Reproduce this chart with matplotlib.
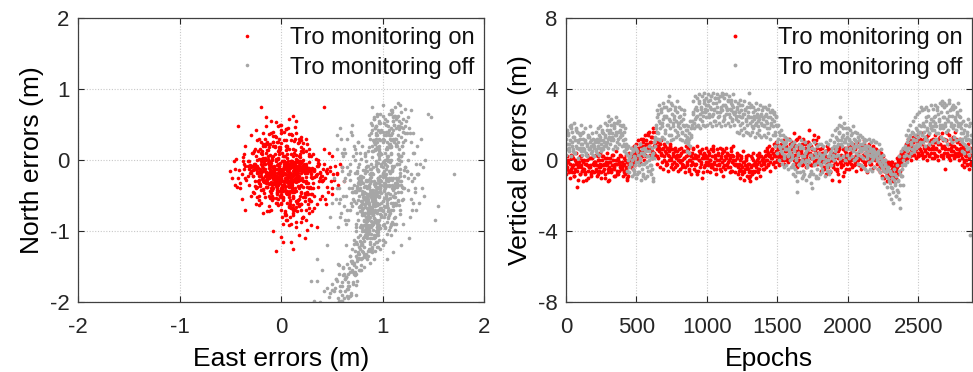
import numpy as np
import matplotlib
matplotlib.use("Agg")
import matplotlib.pyplot as plt

plt.rcParams['font.family'] = ['Liberation Sans', 'DejaVu Sans']
plt.rcParams['axes.unicode_minus'] = False

# ---------------- Left panel: horizontal errors (cm) ----------------
east_on_cm = [
    3, -12, 18, -5, 9, -22, 1, 14, -8, 25, -2, 7, -17, 11, -30, 4, 20, -6, 0, 13,
    -9, 16, 2, -25, 8, 30, -4, -14, 12, 5, -19, 22, -1, 10, -7, 27, -11, 6, 15, -3,
    19, -15, 4, -27, 11, -6, 24, 0, -20, 8, 33, -10, 13, -2, -35, 17, 5, -13, 28, 1,
    -5, 21, -16, 9, -24, 3, 14, -8, 37, -12, 6, -1, 18, -21, 10, -4, 26, -9, 2, 15,
    7, -18, 12, -3, 29, -11, 0, 20, -26, 4, -7, 16, 35, -14, 9, -1, 23, -31, 6, 11,
    -2, 13, -23, 5, 18, -8, 31, -15, 2, 10, -28, 22, -6, 14, -10, 3, 40, -17, 8, -4,
    24, -13, 7, -36, 15, 1, -9, 19, -5, 28, -20, 12, -1, 6, -25, 17, -11, 32, 3, -7,
    10, -16, 21, -3, 4, -29, 14, 38, -8, 0, 17, -13, 9, -22, 25, -5, 12, -2, -18, 30,
    -10, 5, 26, -19, 11, -4, 16, -33, 2, 20, -7, 8, -14, 34, -1, 13, -24, 6, 23, -9,
    15, -21, 3, 9, -12, 27, -6, 18, -30, 1, 11, -16, 41, -3, 7, 22, -9, 0, 14, -26,
    -50, -45, -40, -35, -42, -38, 60, 62, 55, 50, 58, 48, 35, -20, 42, -42, -15, -10, 12, 15,
    0, -5, 8, -8, 2, -5, 0, 12, 10, 20, 25, 5, -12, 30, 18, 15, 22, -18, 28, -25,
    -28, 33, -14, 45, -33, 20, 6, -22, 37, 12, -2, 26, -37, 17, 4, 30, -19, 9, -11, 43,
    -25, -30, -18, -8, 5, 10, 20, 25, -35, 28, -22, 0, 14, -6, 32, -15, 8, 18, -28, 3,
    5, -8, 12, -3, 0, 16, -14, 7, -1, 21, -6, 9, 2, -18, 11, -4, 14, -10, 4, 19,
    -2, 10, -12, 6, 18, -7, 1, -16, 13, 3, -5, 23, -9, 8, -1, 15, -13, 5, 26, -3,
    8, -11, 17, -4, 3, -20, 12, 0, 22, -7, 6, -15, 10, -2, 27, -9, 4, 14, -17, 1,
    -6, 15, 2, -10, 20, -3, 9, -18, 6, 13, -1, -13, 18, 4, -8, 24, 0, 11, -22, 7,
    11, -5, 4, 19, -14, 8, -1, 30, -9, 2, 16, -6, 12, -19, 5, -3, 21, 9, -11, 0,
    -4, 7, -16, 13, 1, -9, 17, 5, -24, 10, -2, 25, -7, 3, 15, -12, 8, -5, 20, 2,
    14, -8, 3, -20, 9, 0, 26, -4, 12, -13, 6, 18, -10, 1, -27, 11, -3, 7, 22, -15,
    0, 17, -6, 9, -15, 4, 28, -11, 2, 13, -3, -21, 8, 19, -8, 5, -1, 15, -12, 10,
    6, -13, 20, -2, 11, -7, 3, 33, -17, 8, -4, 14, -10, 1, 24, -6, 16, -1, 7, -23,
    -1, 9, -19, 4, 15, -5, 11, -12, 27, 2, -8, 18, 0, -15, 7, 22, -3, 12, -26, 5,
    -30, 35, -25, 40, -32, 28, -38, 33, -28, 42, -22, 36, -34, 30, -27, 44, -36, 31, -24, 38,
    -15, 20, -8, 25, -20, 15, 5, -12, 28, -3, 18, -26, 10, -18, 22, 0, -10, 14, -22, 8,
    32, -28, 38, -35, 26, -40, 34, -20, 41, -31, 29, -37, 45, -24, 36, -29, 39, -33, 27, -41,
    12, -6, 20, -14, 4, 26, -18, 9, -2, 16, -11, 22, 1, -23, 14, -8, 24, 6, -16, 18,
    48, 52, 45, 55, 50, 46, -45, -48, -44, 47, 53, 43, 49, -43, -46, 51, 44, 56, 42, 50,
    35, 28, 20, 25, 15, 30, 40, 22, 18, 33, 10, 26, 38, 5, 12, 24, 31, 16, 21, 8,
    -5, 10, -12, 3, 18, -20, 7, -8, 15, 0, -16, 22, -3, 11, -24, 5, 26, -10, 13, -1,
    -18, 8, 30, -26, 15, -8, 36, -32, 4, 24, -14, 40, -4, 19, -36, 12, 28, -21, 2, 33,
    -20, -10, 0, 10, 20, 30, -15, -5, 5, 15, 25, -25, -18, -8, 2, 12, 22, -12, -2, 8,
    18, 28, -22, -14, -4, 6, 16, 26, -28, -16, -6, 4, 14, 24, -20, -10, 0, 10, 20, -24,
    1, 9, 17, -7, -15, 23, 31, -21, -3, 5, 13, 21, -11, -19, 27, 3, 11, 19, -5, -13,
    7, -9, 15, -1, 23, -17, 9, 25, -7, 1, 17, -23, -5, 13, 29, -13, 5, 19, -3, 11,
    -26, 34, -32, 36, -30, 32, 0, 4, -4, 8, -8, 12, -12, 16, -16, 20, -20, 24, -24, 28,
    3, -6, 14, -18, 21, -9, 7, -2, 17, -13, 26, -21, 10, 0, -27, 19, -7, 12, -15, 24,
]
north_on_cm = [
    -10, -25, 5, -32, -18, 2, -40, -12, -22, -8, 12, -28, -5, -45, -15, -20, -35, 8, -14, -3,
    -19, 0, -30, -11, 15, -24, -7, -38, -16, 20, -27, -13, -50, -2, -21, -33, 7, -9, -43, -26,
    4, -17, -36, -6, -29, 18, -12, -48, -1, -23, -14, -31, 10, -20, -9, -56, -4, 22, -39, -15,
    -28, -11, 3, -44, -19, -8, 14, -26, -5, -34, -60, -13, -2, -22, 9, -37, -17, -10, -52, 1,
    -6, -41, -20, 13, -15, -3, -27, -47, -12, 6, -33, -24, -9, -18, -58, 16, -30, -7, -21, -35,
    9, -16, -29, -4, -39, -21, -11, 0, -53, -25, -14, 11, -32, -7, -46, -19, -23, -1, -13, -42,
    -18, 2, -24, -12, 7, -36, -50, -10, -27, -3, -16, -64, -22, 17, -8, -30, -44, -14, -5, -31,
    -37, -13, -2, -55, -20, -9, -28, -17, 5, -41, -26, 14, -11, -33, -6, -23, -70, -15, 3, -48,
    -4, -29, -19, 8, -40, -12, -58, -22, -1, -14, -34, -7, -26, -21, 19, -45, -10, -31, -16, 4,
    -24, -36, -11, -62, -2, -15, -27, -8, -19, 10, -43, -30, -13, -5, -20, -38, 1, -52, -17, -9,
    -15, -35, -40, -70, -25, -55, -10, -30, -20, -40, -5, -15, -95, 75, 74, 48, 60, 55, 62, 55,
    50, 53, 58, -100, -115, -128, -108, -125, -115, -70, -85, -78, -72, -92, -65, -88, -80, -75, -68, -62,
    -22, -50, 25, -18, -8, 28, 20, -63, -30, 16, 30, -45, -2, 24, -72, -12, 12, -80, 22, -25,
    42, 35, 38, 40, 44, 36, 33, 30, 20, 15, 30, 38, 46, 34, 8, 48, 36, 26, 10, 28,
    -12, -20, -5, -28, -16, -9, -22, -2, -33, -14, -26, -7, -19, -11, -30, -24, -4, -17, -38, -13,
    -8, -31, -18, 3, -23, -14, -42, -6, -27, -20, 1, -15, -35, -10, -25, -3, -21, -46, -12, -29,
    -17, -4, -26, -39, -11, -22, 5, -30, -15, -8, -44, -19, -1, -24, -13, -34, -10, -28, -6, -21,
    -25, -12, -36, -9, -19, 2, -29, -16, -48, -6, -21, -32, -14, -3, -27, -18, -40, -10, -23, -15,
    -2, -37, -20, -13, -28, -7, -24, -18, 0, -43, -11, -31, -22, -16, -5, -35, -26, -9, -14, -49,
    -19, -6, -23, -30, -12, -41, -3, -27, -15, -20, -9, -33, -17, 6, -25, -11, -52, -22, -4, -14,
    -30, -10, -1, -18, -36, -23, -13, -45, -7, -26, -16, -3, -39, -21, -12, -32, 3, -24, -8, -28,
    -15, -22, -34, -5, -17, -29, -11, -20, -56, -9, -27, -13, -38, -1, -24, -44, -18, -31, -7, -23,
    -6, -19, -27, -12, -40, -15, -2, -24, -31, -10, -47, -20, -14, -35, -8, -26, -17, -4, -37, -11,
    -21, -33, -9, -26, -14, -2, -38, -19, -11, -29, -16, -7, -43, -23, -13, -30, -18, -54, -5, -25,
    -10, -20, 5, -30, -35, 8, -20, -12, -45, -5, -50, 0, -28, -40, 12, -15, -5, -48, -38, -25,
    22, 18, 25, 12, -60, -58, 28, -65, -55, 26, -62, 15, -68, 20, -52, 24, -70, 30, -56, -66,
    -32, -8, -18, -25, -48, -32, 2, -42, -28, -18, -58, 4, -12, -52, -38, 10, -22, -2, -62, -14,
    -50, 20, -62, 14, -74, -46, 22, -66, 18, -58, -54, 16, -80, 12, -70, 26, -48, -85, 20, -64,
    -10, -28, -38, -18, 5, -45, -12, -25, 2, 10, -8, -55, -30, -38, -2, -20, -62, -35, 15, -48,
    -62, -75, -88, -70, -95, -58, -50, -80, -105, -68, -90, -98, -55, -85, -78, -110, -72, -60, -82, -92,
    32, 28, 36, 40, 30, 26, 45, 34, 38, 42, 30, 24, 48, 35, 28, 44, 22, 38, 27, 50,
    -42, -48, 6, -36, -66, -54, -4, -2, -78, -46, -72, -30, -60, 8, 8, -74, -56, 16, -90, -16,
    -5, -15, -25, -35, -45, -20, 10, 0, -10, -20, -30, -40, -30, -40, 5, -5, 0, -50, 15, -45,
    -55, -12, -28, -38, -48, 8, -2, -38, -22, -52, -32, -42, -8, -52, 2, -22, -60, -28, 12, -8,
    -18, -56, -24, -14, -32, -6, -26, -16, -64, 14, -44, -14, -24, -2, -48, -34, -4, -36, -54, 6,
    -8, -42, -30, -50, -16, -46, -66, -24, -20, -2, -36, -18, -60, -12, -38, -26, 20, -50, -34, -28,
    -30, -22, -12, -8, -50, -40, -70, -75, 25, -65, 20, -68, 18, -72, 22, -62, 10, -58, 0, 5,
    -20, -12, -40, -26, -8, -56, -32, -44, -18, -4, -48, -34, -22, -62, -46, -28, -10, -52, -38, -16,
]
east_off_cm = [
    92, 78, 105, 85, 118, 70, 96, 88, 110, 82, 100, 74, 93, 115, 87, 102, 79, 95, 108, 90,
    84, 99, 112, 76, 94, 104, 89, 121, 81, 97, 86, 109, 72, 91, 101, 83, 116, 95, 68, 106,
    98, 80, 113, 87, 103, 75, 92, 119, 85, 100, 94, 107, 78, 89, 124, 96, 83, 111, 91, 102,
    88, 110, 77, 95, 105, 84, 118, 93, 71, 99, 86, 114, 90, 80, 103, 97, 122, 82, 108, 94,
    101, 85, 96, 116, 79, 92, 106, 89, 125, 98, 74, 111, 87, 103, 94, 81, 117, 99, 90, 108,
    91, 120, 83, 100, 76, 97, 112, 86, 104, 93, 128, 80, 95, 109, 88, 73, 102, 115, 84, 98,
    110, 118, 122, 105, 115, 125, 100, 112, 120, 108, 98, 128, 113, 103, 117, 123, 95, 107, 130, 111,
    130, 135, 138, 132, 140, 127, 136, 142, 129, 134, 128, 137, 145, 131, 139, 126, 133, 141, 170, 155,
    62, 68, 58, 72, 65, 55, 70, 60, 66, 63, 74, 57, 69, 52, 64, 71, 61, 67, 59, 73,
    85, 72, 90, 78, 84, 64, 79, 88, 61, 75, 66, 82, 70, 77, 54, 68, 73, 60, 57, 71,
    52, 64, 69, 57, 74, 48, 66, 55, 72, 45, 61, 68, 50, 65, 76, 38, 42, 35, 95, 110,
    95, 88, 102, 80, 92, 108, 76, 98, 84, 100, 90, 112, 74, 86, 96, 104, 82, 93, 79, 118,
    90, 95, 88, 93, 86, 98, 91, 96, 89, 94, 87, 92, 97, 85, 99, 90, 94, 88, 93, 96,
    55, 60, 65, 58, 70, 50, 48, 35, 30, 40, 33, 45, 102, 120, 115, 100, 90, 135, 148, 152,
    88, 97, 80, 104, 92, 85, 110, 94, 78, 99, 90, 106, 83, 96, 114, 87, 101, 75, 93, 108,
    95, 82, 102, 89, 117, 91, 76, 98, 86, 109, 93, 80, 105, 97, 84, 112, 90, 100, 73, 95,
    103, 90, 79, 96, 111, 86, 99, 93, 120, 84, 101, 88, 107, 77, 94, 115, 91, 82, 98, 105,
    87, 100, 94, 81, 113, 96, 85, 108, 92, 78, 104, 89, 117, 95, 83, 99, 110, 86, 102, 91,
    97, 84, 106, 91, 80, 101, 95, 88, 114, 93, 76, 99, 107, 86, 94, 121, 90, 82, 103, 96,
    92, 105, 83, 98, 89, 111, 95, 79, 102, 87, 118, 93, 84, 100, 108, 90, 97, 74, 104, 86,
    100, 110, 95, 116, 104, 122, 98, 112, 106, 119, 93, 109, 115, 101, 124, 97, 113, 107, 103, 118,
    85, 91, 79, 96, 88, 82, 94, 86, 90, 80, 93, 87, 84, 97, 89, 81, 95, 83, 92, 78,
    70, 82, 64, 76, 58, 88, 68, 74, 60, 80, 66, 54, 72, 62, 78, 50, 69, 57, 75, 63,
    67, 73, 59, 85, 61, 77, 53, 71, 65, 90, 56, 79, 63, 69, 47, 74, 58, 83, 66, 60,
    66, 70, 74, 68, 72, 63, 76, 71, 65, 78, 69, 73, 67, 75, 62, 77, 70, 64, 74, 68,
    112, 118, 105, 122, 115, 108, 125, 110, 119, 103, 116, 121, 107, 113, 124, 109, 117, 104, 120, 111,
    82, 88, 95, 85, 92, 98, 80, 90, 86, 96, 83, 93, 89, 99, 84, 91, 87, 97, 81, 94,
    100, 94, 106, 90, 103, 97, 109, 92, 101, 95, 107, 88, 104, 98, 111, 93, 102, 96, 89, 105,
    78, 84, 72, 90, 80, 86, 75, 82, 88, 70, 83, 79, 85, 76, 91, 81, 74, 87, 77, 89,
    68, 74, 62, 80, 66, 72, 58, 77, 64, 70, 60, 75, 67, 82, 63, 71, 56, 79, 65, 73,
    105, 110, 100, 115, 95, 108, 120, 102, 112, 98, 118, 106, 92, 114, 103, 122, 97, 109, 116, 101,
    57, 60, 62, 55, 58, 61, 54, 63, 59, 56, 127, 132, 125, 130, 128, 134, 126, 131, 129, 133,
    76, 84, 92, 100, 108, 116, 80, 88, 96, 104, 112, 120, 78, 86, 94, 102, 110, 118, 82, 90,
    98, 106, 114, 74, 83, 91, 99, 107, 115, 77, 85, 93, 101, 109, 117, 79, 87, 95, 103, 111,
    119, 81, 89, 97, 105, 113, 75, 83, 91, 99, 107, 115, 73, 87, 95, 103, 111, 79, 93, 101,
    109, 117, 77, 85, 93, 101, 109, 117, 81, 89, 97, 105, 113, 75, 86, 94, 102, 110, 118, 84,
    92, 100, 108, 78, 88, 96, 104, 112, 82, 90, 98, 106, 114, 76, 94, 102, 86, 110, 80, 98,
    95, 103, 87, 111, 79, 99, 91, 107, 83, 115, 97, 89, 105, 93, 101, 85, 109, 81, 113, 100,
    88, 96, 104, 92, 100, 84, 108, 80, 112, 90, 98, 106, 94, 102, 86, 110, 82, 114, 97, 93,
    91, 99, 107, 87, 95, 103, 83, 111, 79, 115, 93, 101, 89, 97, 105, 85, 109, 77, 113, 96,
    100, 108, 116, 94, 104, 112, 120, 98, 106, 114, 90, 102, 110, 118, 96, 104, 122, 92, 108, 116,
    86, 92, 98, 104, 80, 88, 94, 100, 106, 84, 90, 96, 102, 82, 108, 88, 94, 100, 86, 92,
]
north_off_cm = [
    -30, 10, -55, -80, 5, -40, -15, 30, -65, -45, -20, -95, 45, -35, -60, -5, -25, -75, 20, -50,
    -10, -70, -38, 25, -88, 15, -52, -22, -33, 55, -78, -8, -58, -42, 35, -18, -63, -90, -28, 0,
    40, -48, -25, -68, -12, -36, 60, -56, -85, -3, -44, 18, -72, -30, -15, -98, 8, 50, -62, -40,
    -20, -50, -5, 65, -82, -58, -35, 22, -45, -67, 12, -28, -92, -74, -48, 30, -10, -38, -60, 48,
    -65, -15, -88, 5, -30, -52, -77, 38, -42, -22, -60, 62, -100, -35, 15, -48, -70, -8, -55, -25,
    28, -40, -62, -18, -85, 52, -33, -50, 0, -73, -20, -58, -95, 70, -12, -45, -66, 35, -80, -28,
    55, 68, 72, 48, 62, 60, 40, 75, 58, 65, 52, 70, 45, 35, 78, 55, 62, 30, 38, 50,
    10, -20, 30, -45, -10, 38, -60, 0, -30, 20, -55, -5, 65, -25, -40, 45, -70, -50, -20, -65,
    -30, -5, -55, 20, -70, -40, 35, -15, -85, 10, -45, -60, 40, -25, -90, 5, -50, -20, -75, 15,
    -105, -118, -110, -125, -132, -120, -140, -115, -150, -138, -160, -122, -145, -155, -168, -135, -158, -178, -148, -172,
    -185, -165, -190, -198, -176, -188, -195, -170, -160, -180, -152, -192, -183, -146, -140, -200, -185, -170, -115, -130,
    -102, -110, -95, -100, -118, -105, -108, -125, -96, -112, -130, -98, -115, -104, -122, -140, -135, -128, -92, -120,
    -45, -60, -32, -70, -55, -40, -65, -28, -75, -50, -38, -58, -62, -48, -35, -68, -42, -80, -52, -25,
    35, 10, 30, 45, 50, -60, -80, -140, -170, -155, -198, -120, -5, -90, 80, 78, 74, -20, 60, -85,
    -20, -45, -70, 5, -55, -30, -10, -85, -40, -60, 20, -25, -75, -50, -5, -35, -90, -15, -65, 35,
    -38, -62, 10, -48, -22, -78, -33, 28, -58, -12, -88, -44, -68, 2, -28, -52, 42, -72, -18, -95,
    15, -42, -66, -26, -52, -8, -80, -36, 25, -60, -16, -46, -74, -30, 48, -56, -20, -84, -40, -2,
    -64, -24, -50, -14, 30, -70, -40, 0, -82, -34, -56, 52, -18, -98, -46, -6, -60, -28, -76, 12,
    -32, -54, 22, -10, -68, -44, -86, -20, -38, -62, -26, 8, -48, -72, 38, -14, -58, -92, -36, -4,
    58, -30, -52, -76, -12, -40, 26, -64, -22, -48, -2, -84, -36, -58, 18, -70, -28, -44, -8, -96,
    30, 42, 18, 55, 25, 48, 10, 62, 35, 20, 45, 28, 8, 52, 38, 15, 58, 22, 40, 32,
    -110, -98, -120, -105, -128, -100, -115, -135, -92, -118, -108, -125, -102, -112, -95, -130, -122, -106, -140, -114,
    -142, -150, -165, -132, -178, -145, -158, -190, -172, -138, -182, -168, -148, -195, -155, -175, -188, -160, -170, -185,
    -152, -128, -198, -140, -162, -133, -180, -175, -192, -125, -146, -155, -168, -142, -193, -160, -185, -137, -178, -199,
    -20, -45, 10, -70, -35, -85, 25, -55, -10, -95, -60, 0, -40, -75, 15, -30, -65, -50, -100, -15,
    -60, -30, -80, -10, -45, 10, -25, -70, 20, -50, -5, -40, 35, -90, -15, -35, 5, -65, -55, 25,
    -55, -70, -45, -85, -62, -35, -78, -50, -92, -40, -66, -58, -74, -30, -88, -46, -82, -52, -68, -38,
    -20, -5, -35, 12, -28, 5, -15, 28, -42, -12, 18, -25, 2, -38, -8, 22, -32, 8, -18, 40,
    -105, -95, -112, -88, -120, -100, -118, -108, -92, -125, -98, -115, -102, -130, -90, -110, -135, -96, -122, -104,
    -135, -150, -160, -128, -172, -145, -185, -138, -165, -155, -190, -142, -178, -132, -168, -158, -195, -148, -182, -162,
    40, 55, 62, 48, 35, 70, 45, 58, 30, 65, 52, 42, 25, 60, 50, 38, 20, 68, 44, 28,
    -40, -10, -65, 15, -80, 5, -55, -25, 30, -95, -80, -40, 0, -60, 25, -20, -110, 10, -70, -5,
    -10, -30, -50, -70, -90, 0, 20, -20, -40, -60, -80, 10, -65, -85, 30, -5, -25, -45, -55, -75,
    40, -15, -35, -90, 5, -58, -78, -3, 25, -42, -68, 15, -32, -88, -12, -22, 35, -62, -48, -82,
    -38, -52, -6, -28, -72, 22, -18, -36, -74, 8, -94, -58, -44, 18, -46, -26, -64, 2, -84, -54,
    -14, -30, -66, -8, -56, -36, 38, -76, -24, -86, 12, -46, -64, -40, -70, -32, -96, -50, 46, -2,
    -34, -58, 28, -22, -48, -16, -88, -34, -78, 4, -68, -28, -6, -56, -8, -76, -60, -42, -96, -44,
    -64, -20, -38, -90, -30, 42, -72, -54, -14, -26, -84, -66, 6, -46, -2, -48, -40, -74, 20, -92,
    -42, -26, -64, -82, -10, -92, -70, -60, -46, -18, -96, -36, -2, -54, -74, 30, -86, -32, -50, 14,
    -78, -46, -18, -100, -64, -52, 10, -38, -58, 2, -34, -80, -24, -92, -72, -86, -28, -50, -62, -14,
    25, 45, 15, 35, 55, 30, 40, 10, 65, 20, 50, 0, 60, 5, 42, 18, 28, 58, 8, 48,
    -100, -110, -96, -104, -94, -118, -106, -112, -98, -108, -122, -102, -116, -114, -92, -126, -100, -120, -128, -105,
]

# ---------------- Right panel: vertical errors (dm) ----------------
# lists *_a hold epochs 0, 8, 16, ...; *_b epochs 4, 12, ...; *_c epochs 2, 10, ...
epoch_step = 8
vert_on_dm_a = [
    -2, -5, -1, -6, 1, -4, -3, -7, 0, -2, -15, -4, 2, -3, -6, -1, -5, -8, -2, 0, -4, -3, -9, 1, -2,
    -3, -1, -6, 2, -4, -2, -7, 0, -3, -5, 1, -2, -12, -4, -1, -6, 3, -3, -5, 0, -2, -8, -1, -4, 2,
    -5, -2, -8, -4, -1, -9, -3, 0, 2, -2, 4, 1, 3, 6, 0, 5, 9, 2, 4, 8, 3, 11, 6, 14, 7,
    10, 5, 18, 8, 3, 12, 6, 1, 9, 4, -1, 7, 2, 5, -3, 3, 0, 6, 1, -2, 4, 2, -4, 3, 0,
    2, -1, 4, 0, -3, 1, 5, -2, 3, -5, 0, 2, -1, 6, -3, 1, -8, 2, 0, 4, -2, 1, -4, 3, -1,
    1, -3, 4, 0, -2, 5, -1, 2, -5, 0, 3, -2, 1, 6, -4, 0, 2, -3, 4, -1, 1, -6, 3, 0, -2,
    0, -3, 2, -2, -5, 1, -4, -1, -7, -3, 0, -5, -2, -9, -4, 1, -6, -2, -3, 0, -5, -1, 2, -3, 0,
    1, -2, 3, 0, 4, 2, -1, 5, 1, 3, 8, 2, 0, 6, 3, -2, 4, 1, 7, 2, 5, 0, 3, 12, 4,
    6, 2, 15, 3, -1, 8, 4, 0, 5, 9, -2, 3, 7, 1, 4, 10, 2, -3, 6, 3, 0, 5, 11, 2, 4,
    1, -3, 4, 0, -5, 2, -2, 6, -1, -6, 3, 0, -4, 1, 5, -2, -8, 2, -1, 3, 0, -3, 7, 1, -2,
    2, -1, 4, 0, 6, 1, -2, 3, 8, 0, 2, -3, 5, 1, -1, 4, 2, 7, 0, 3, -2, 1, 5, 2, 0,
    1, -2, 3, -3, 0, -4, -1, -6, -2, -5, -8, -3, -6, -1, -7, -4, -9, -2, -5, 0, -3, 2, -1, 4, 1,
    3, 6, 1, 8, 4, 2, 7, 5, 10, 3, 6, 9, 4, 7, 12, 5, 3, 8, 6, 11, 4, 7, 2, 9, 6,
    8, 4, 10, 6, 2, 9, 5, 13, 7, 3, 8, 6, 11, 4, 9, 1, 7, 10, 5, 8, 3, 12, 6, 4, 9,
    4, 1, 6, -1, 3, 0, 5, 2, -2, 3,
]
vert_on_dm_b = [
    -4, 0, -7, -2, -5, 2, -3, -9, -1, -6, -3, 1, -8, -4, 0, -5, -2, -11, -3, -6, 1, -4, -7, -2, -1,
    -1, -5, -3, -8, 0, -4, 2, -6, -2, -10, -3, 1, -5, -1, -7, -3, 0, -4, -9, -2, -6, 1, -3, -5, -1,
    -3, -7, 0, -5, -10, -2, 1, -4, 0, 3, -1, 5, 2, 7, 4, 1, 8, 5, 12, 3, 9, 6, 15, 8, 10,
    7, 13, 4, 9, 16, 2, 8, 5, 11, 3, 6, 0, 8, 4, -2, 6, 2, 9, 0, 3, -1, 5, 1, -3, 2,
    0, 3, -2, 5, 1, -4, 2, -1, 7, 0, -3, 4, 1, -2, 3, -6, 2, 0, 5, -1, -10, 3, 1, -3, 2,
    -1, 3, 0, -4, 2, 6, -2, 1, -3, 4, 0, -5, 2, -1, 5, -3, 1, -2, 3, 0, -4, 7, -1, 2, -3,
    -2, 1, -4, -6, 0, -3, -8, -1, -5, 2, -4, -2, -10, -6, -3, 0, -7, -1, -4, -2, 1, -5, -3, 0, -1,
    -1, 2, 0, 5, -2, 3, 1, 6, 4, -1, 2, 5, 9, 1, 4, 2, 7, 3, 0, 5, 8, 2, 6, 1, 4,
    3, 8, 0, 5, 12, 2, 6, -1, 4, 7, 1, 10, 3, 5, -2, 8, 4, 1, 6, 14, 3, 0, 7, 4, 2,
    3, -1, 0, -4, 2, 5, -2, 1, -7, 3, 0, -3, 4, -1, 2, -5, 1, 6, -2, 0, -9, 2, -1, 4, 1,
    0, 3, -2, 5, 1, 7, -1, 2, 4, -3, 1, 6, 0, 3, 9, -1, 2, 5, 1, -2, 4, 0, 3, 6, 1,
    0, 2, -1, -4, 1, -3, -5, -2, -7, -4, -1, -6, -9, -3, -5, -8, -2, -6, -4, -1, -2, 1, 0, 3, 2,
    5, 2, 7, 4, 9, 6, 3, 8, 12, 5, 7, 10, 2, 6, 9, 4, 11, 7, 5, 13, 8, 6, 10, 4, 7,
    6, 10, 3, 7, 12, 5, 9, 2, 8, 11, 4, 7, 15, 6, 3, 9, 5, 8, 12, 4, 7, 10, 2, 6, 5,
    3, 6, 0, 4, 2, -3, 5, 1, 3, -1,
]
vert_on_dm_c = [
    -8, 2, -6, -10, 3, -7, 1, -9, -5, 4, -11, -1, -8, 2, -6, -12, 0, -7, 3, -10, -4, 1, -8, -6, 2,
    -7, 3, -9, 0, -6, 4, -10, -3, 2, -8, -1, 4, -7, -11, 1, -5, 3, -9, -2, 5, -8, 0, -6, 3, -4,
    -9, 1, -6, 3, -11, -7, 4, -2, 7, -5, 8, -3, 9, 1, 11, -1, 12, 3, 10, 0, 14, 2, 9, 16, 3,
    13, 1, 16, 4, 12, -2, 10, 7, -4, 11, 3, -5, 9, -1, 7, -6, 5, 8, -4, 6, -5, 7, -2, 5, -6,
    6, -5, 7, -4, 5, -7, 8, -3, 6, -6, 4, -8, 7, -5, 3, -2, 8, -6, 5, -4, 6, -7, 4, -3, 7,
    -6, 5, -7, 6, -4, 8, -5, 3, -8, 6, -3, 7, -6, 4, -9, 5, -5, 7, -4, 3, -7, 5, -6, 8, -2,
    -7, 4, -8, 3, -10, 2, -6, 5, -11, 1, -9, 3, -7, -12, 2, -8, 4, -6, -10, 3, -7, 4, -9, 2, -5,
    -5, 5, -4, 7, -3, 8, -6, 6, -2, 9, -4, 10, -1, 7, -3, 9, 0, 11, -2, 8, 1, 12, -1, 9, 2,
    10, -3, 9, -2, 11, -4, 13, -1, 8, -3, 12, 0, 9, -4, 10, 17, -2, 8, -3, 11, -1, 9, -2, 13, 0,
    6, -6, 7, -5, 5, -8, 8, -4, 6, -7, 4, -11, 7, -5, 6, -6, 5, -12, 8, -4, 6, -7, 5, -5, 7,
    7, -5, 8, -4, 9, -3, 6, -6, 10, -2, 7, -5, 8, -4, 11, -3, 6, -7, 9, -2, 7, -5, 8, -4, 6,
    6, -5, 5, -7, 4, -9, 2, -10, 0, -12, -2, -11, -3, -9, -1, -12, -4, -10, 1, -8, 2, -6, 4, -3, 6,
    0, 9, 1, 12, 2, 11, 0, 13, 3, 12, 1, 14, 2, 11, 3, 15, 1, 12, 2, 13, 0, 14, 3, 11, 1,
    12, 1, 14, 2, 11, 0, 13, 3, 15, 1, 12, -5, 11, 2, 14, 0, 12, 3, 13, 1, 16, 2, 11, 0, 12,
    7, -3, 8, -4, 6, -2, 9, -5, 7, -3,
]
vert_off_dm_a = [
    12, 6, 15, 9, 20, 8, 13, 4, 11, 17, 7, 10, 14, 5, 9, 12, 6, 10, 3, 8, 13, 7, 11, 5, 9,
    8, 11, 5, 10, 7, 13, 9, 16, 11, 8, 14, 10, 25, 13, 17, 11, 15, 12, 19, 14, 10, 16, 22, 13, 15,
    14, 9, 12, 6, 3, 0, -4, 2, -2, 5, -6, 1, -1, -8, 3, -3, 0, -5, 4, -2, 6, -1, -4, 2, 0,
    -3, 3, -12, 1, 8, 18, 24, 15, 21, 27, 19, 23, 30, 17, 25, 20, 36, 22, 14, 26, 19, 23, 28, 16, 21,
    24, 18, 22, 15, 20, 26, 17, 13, 10, 15, 8, 14, 20, 27, 23, 30, 25, 19, 32, 26, 29, 22, 34, 27, 31,
    28, 33, 24, 30, 36, 26, 29, 22, 32, 27, 35, 25, 30, 28, 37, 23, 31, 26, 29, 33, 24, 28, 31, 27, 26,
    27, 23, 30, 25, 20, 28, 24, 26, 18, 29, 22, 25, 38, 21, 24, 19, 27, 23, 20, 26, 22, 17, 25, 21, 28,
    23, 19, 26, 21, 29, 18, 24, 20, 27, 22, 16, 25, 19, 12, 8, 14, 5, 10, 3, 9, 6, 12, 2, 7, 4,
    3, -2, 6, -5, 1, -18, 4, -3, 8, 0, -6, 2, -1, 5, -4, 0, -8, 3, -16, 1, 6, -2, 2, -5, 4,
    -2, 3, -5, 1, -1, 4, -3, 0, 2, -6, 5, 1, 3, 8, 6, 12, 9, 15, 24, 11, 8, 14, 10, 7, 13,
    9, 12, 6, 10, 15, 7, 11, 4, 8, 13, 5, 9, 2, 7, 10, 4, 6, 1, 8, 3, 5, 0, 6, 2, 4,
    3, 0, 5, -2, 1, -4, -1, -6, -3, -9, -5, -12, -7, -15, -10, -18, -8, -13, -20, -11, -6, -27, -9, -3, -14,
    2, 8, 5, 12, 7, 14, 10, 6, 15, 11, 18, 9, 13, 20, 16, 30, 14, 19, 12, 22, 17, 25, 15, 21, 18,
    22, 17, 25, 19, 28, 15, 23, 20, 31, 18, 24, 21, 16, 27, 22, 34, 19, 25, 29, 20, 23, 17, 26, 21, 24,
    18, 12, 15, 9, 20, 11, 14, 7, -42, 10,
]
vert_off_dm_b = [
    9, 14, 7, 11, 18, 10, 5, 13, 8, 16, 11, 6, 12, 9, 15, 7, 11, 4, 9, 13, 6, 10, 8, 12, 7,
    10, 6, 12, 8, 14, 11, 7, 15, 10, 13, 9, 17, 12, 15, 20, 13, 11, 18, 14, 16, 21, 12, 17, 14, 19,
    11, 16, 8, 4, 7, 1, -2, 4, 0, -5, 2, -3, 6, -1, -7, 1, 4, -2, -9, 3, -1, 2, -6, 5, -3,
    1, -5, 4, 12, 20, 16, 26, 22, 18, 29, 21, 25, 15, 24, 20, 28, 23, 18, 32, 21, 25, 17, 22, 27, 19,
    21, 25, 16, 23, 19, 14, 11, 17, 9, 12, 18, 22, 26, 21, 29, 24, 28, 33, 23, 30, 27, 25, 32, 29, 24,
    31, 26, 34, 29, 25, 32, 28, 35, 30, 24, 33, 27, 29, 36, 31, 25, 30, 28, 34, 26, 29, 32, 23, 30, 27,
    25, 29, 22, 27, 31, 24, 21, 26, 28, 23, 20, 27, 24, 30, 22, 18, 25, 28, 21, 24, 19, 23, 26, 20, 24,
    20, 25, 22, 18, 24, 27, 21, 23, 19, 26, 14, 20, 10, 16, 7, 11, 4, 8, 1, 6, 10, 3, 5, 0, 8,
    1, -4, 5, 0, -7, 3, -2, 7, -1, 2, -9, 4, 0, -3, 6, -1, 3, -6, 1, -3, 4, -10, 2, -1, 0,
    1, -3, 3, -1, 5, 0, -4, 2, -2, 4, 7, 2, 10, 5, 13, 8, 11, 16, 9, 13, 18, 10, 12, 6, 15,
    11, 7, 14, 9, 5, 12, 8, 10, 3, 11, 7, 5, 9, 1, 6, 8, 3, 5, -1, 7, 2, 4, 1, 5, 3,
    1, 4, -1, 2, -3, 0, -5, -2, -7, -4, -10, -6, -13, -8, -16, -11, -14, -9, -17, -12, -22, -8, -5, 0, -2,
    6, 3, 10, 7, 13, 9, 16, 12, 8, 14, 11, 17, 15, 10, 19, 14, 21, 16, 13, 24, 18, 15, 20, 23, 17,
    19, 24, 21, 15, 26, 22, 18, 27, 20, 24, 32, 19, 23, 17, 25, 28, 21, 30, 18, 24, 22, 27, 19, 25, 20,
    15, 10, 17, 13, 8, 16, 12, 19, 11, 14,
]
vert_off_dm_c = [
    3, 17, 5, 19, 2, 16, 6, 21, 4, 18, 1, 15, 7, 20, 3, 16, 5, 18, 2, 14, 6, 19, 4, 15, 3,
    2, 16, 4, 18, 3, 19, 5, 17, 6, 21, 8, 20, 7, 22, 9, 23, 6, 21, 8, 24, 7, 22, 9, 20, 8,
    20, 5, 18, 9, -6, 8, -7, 7, -9, 6, -8, 8, -10, 5, -7, 9, -11, 6, -8, 7, -10, 5, -9, 8, -6,
    -8, 7, -10, 10, 13, 28, 12, 31, 11, 29, 13, 32, 12, 30, 10, 33, 14, 29, 11, 31, 12, 30, 13, 33, 14,
    30, 12, 29, 11, 28, 10, 20, 5, 19, 4, 22, 13, 33, 18, 36, 19, 35, 20, 37, 18, 36, 20, 38, 19, 35,
    20, 37, 21, 36, 19, 38, 22, 35, 20, 37, 21, 36, 19, 38, 22, 35, 20, 37, 21, 36, 19, 34, 22, 37, 20,
    33, 16, 32, 15, 34, 17, 31, 14, 33, 16, 30, 15, 32, 14, 31, 16, 30, 13, 32, 15, 29, 14, 31, 13, 30,
    14, 30, 13, 29, 15, 31, 12, 28, 14, 27, 8, 24, 4, 20, 0, 17, -2, 14, -4, 13, -3, 12, -5, 11, -4,
    9, -8, 10, -9, 8, -12, 9, -7, 11, -10, 7, -8, 10, -11, 8, -9, 9, -13, 7, -8, 10, -9, 8, -10, 9,
    -8, 9, -7, 8, -9, 10, -6, 9, -8, 11, -3, 14, 0, 17, 2, 18, 3, 20, 1, 19, 2, 21, 0, 18, 3,
    18, 1, 17, 2, 19, 0, 16, 1, 15, -2, 14, -3, 13, -4, 12, -5, 11, -6, 12, -5, 10, -6, 11, -4, 10,
    10, -5, 9, -7, 6, -10, 3, -13, 0, -15, -4, -19, -6, -22, -8, -24, -5, -20, -3, -18, 2, -14, 5, -9, 7,
    -3, 14, -1, 17, 2, 20, 4, 22, 5, 24, 7, 26, 8, 27, 9, 28, 10, 29, 8, 30, 11, 28, 9, 31, 10,
    29, 11, 31, 12, 30, 10, 32, 13, 33, 12, 30, 11, 31, 9, 32, 12, 29, 10, 31, 13, 30, 11, 32, 12, 28,
    21, 5, 22, 4, 20, 6, 23, 3, 21, 5,
]

labels = ["Tro monitoring on", "Tro monitoring off"]
c_on = "#FF0000"
c_off = "#A6A6A6"

W, H = 973, 372
fig = plt.figure(figsize=(W / 100, H / 100), dpi=100)
ax1 = fig.add_axes([78 / W, (H - 302) / H, 406 / W, 284 / H])
ax2 = fig.add_axes([566 / W, (H - 302) / H, 406 / W, 284 / H])

ms = 2.6
ax1.plot(np.array(east_on_cm) / 100, np.array(north_on_cm) / 100, 'o', ms=ms, mew=0,
         color=c_on, label=labels[0])
ax1.plot(np.array(east_off_cm) / 100, np.array(north_off_cm) / 100, 'o', ms=ms, mew=0,
         color=c_off, label=labels[1])

ep_a = np.arange(len(vert_on_dm_a)) * epoch_step
ep_all = np.concatenate([ep_a, ep_a + 4, ep_a + 2])
v_on = np.concatenate([vert_on_dm_a, vert_on_dm_b, vert_on_dm_c]) / 10
v_off = np.concatenate([vert_off_dm_a, vert_off_dm_b, vert_off_dm_c]) / 10
ax2.plot(ep_all, v_on, 'o', ms=2.8, mew=0, color=c_on, label=labels[0])
ax2.plot(ep_all, v_off, 'o', ms=2.8, mew=0, color=c_off, label=labels[1])

ax1.set_xlim(-2, 2)
ax1.set_ylim(-2, 2)
ax1.set_xticks([-2, -1, 0, 1, 2])
ax1.set_yticks([-2, -1, 0, 1, 2])
ax1.set_xlabel("East errors (m)", fontsize=19, labelpad=6)
ax1.set_ylabel("North errors (m)", fontsize=19, labelpad=4)

ax2.set_xlim(0, 2880)
ax2.set_ylim(-8, 8)
ax2.set_xticks([0, 500, 1000, 1500, 2000, 2500])
ax2.set_yticks([-8, -4, 0, 4, 8])
ax2.set_xlabel("Epochs", fontsize=19, labelpad=6)
ax2.set_ylabel("Vertical errors (m)", fontsize=19, labelpad=4)

for ax in (ax1, ax2):
    ax.grid(True, linestyle=(0, (1, 1.5)), color="#C8C8C8", linewidth=0.8)
    ax.set_axisbelow(True)
    ax.tick_params(direction='in', top=True, right=True, length=4, width=0.8,
                   labelsize=16, colors="#262626")
    ax.tick_params(axis='x', pad=11)
    ax.tick_params(axis='y', pad=6)
    for s in ax.spines.values():
        s.set_color("#404040")
        s.set_linewidth(0.9)
    leg = ax.legend(loc='upper right', frameon=False, fontsize=17, numpoints=1,
                    markerscale=1.0, handlelength=2.0, handletextpad=0.8,
                    borderaxespad=0.0, labelspacing=0.3, bbox_to_anchor=(1.0, 1.0))
    for t in leg.get_texts():
        t.set_color("#111111")

fig.savefig("out.png", dpi=100)
